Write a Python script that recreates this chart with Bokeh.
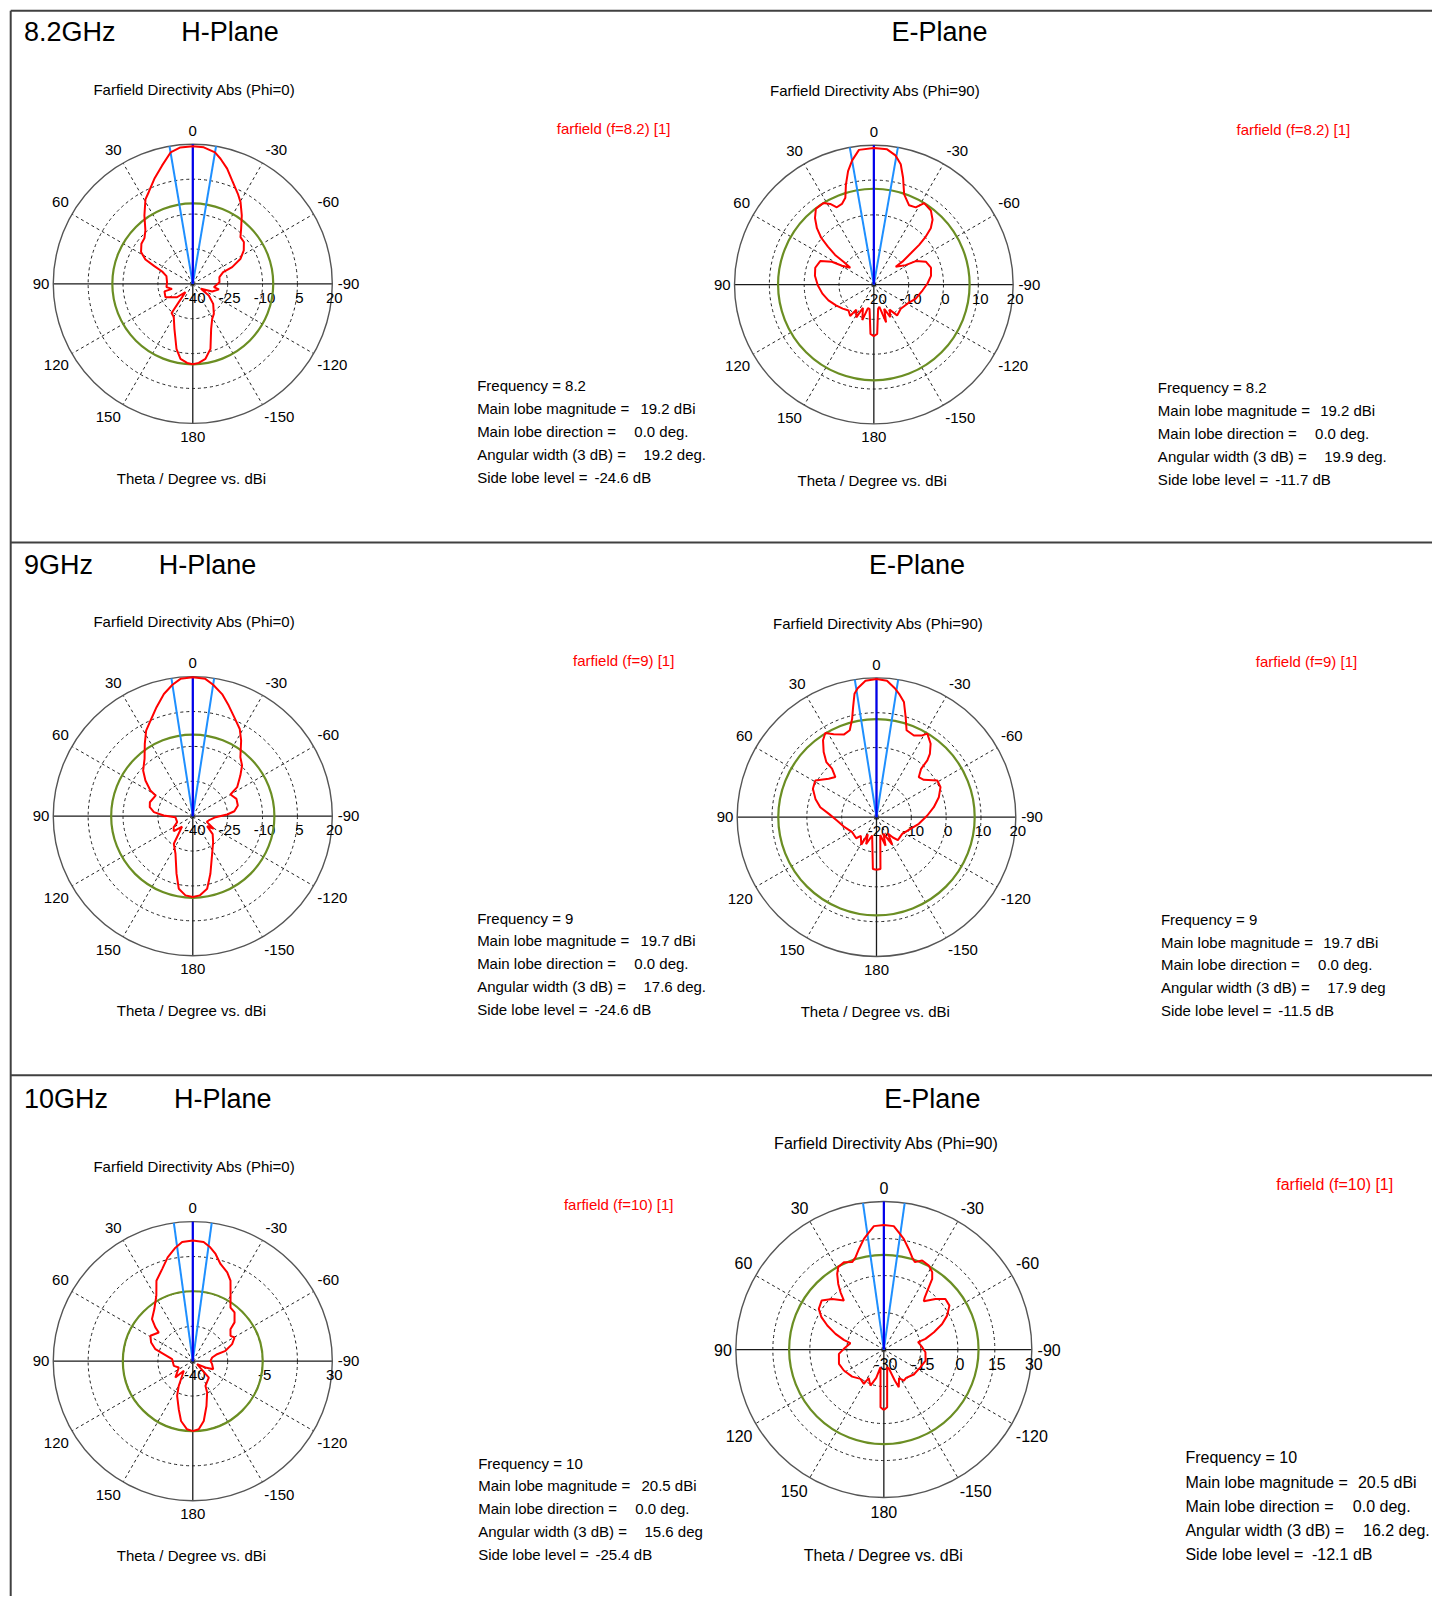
import numpy as np
from bokeh.plotting import figure
from bokeh.models import Range1d
from bokeh.core.properties import value
from bokeh.embed import file_html
from bokeh.resources import INLINE

# ---------------- data ----------------
freq_titles = ["8.2GHz", "9GHz", "10GHz"]
frequencies = ["8.2", "9", "10"]

h_main_lobe = [19.2, 19.7, 20.5]
e_main_lobe = [19.2, 19.7, 20.5]
h_width = [19.2, 17.6, 15.6]
e_width = [19.9, 17.9, 16.2]
h_width_unit = ["deg.", "deg.", "deg"]
e_width_unit = ["deg.", "deg", "deg."]
h_sll = [-24.6, -24.6, -25.4]
e_sll = [-11.7, -11.5, -12.1]

h_ticks = [[-40, -25, -10, 5, 20], [-40, -25, -10, 5, 20], [-40, -22.5, -5, 12.5, 30]]
h_tick_labels = [["-40", "-25", "-10", "5", "20"], ["-40", "-25", "-10", "5", "20"], ["-40", "", "-5", "", "30"]]
e_ticks = [[-20, -10, 0, 10, 20], [-20, -10, 0, 10, 20], [-30, -15, 0, 15, 30]]
e_tick_labels = [["-20", "-10", "0", "10", "20"], ["-20", "-10", "0", "10", "20"], ["-30", "-15", "0", "15", "30"]]

angle_labels = [0, 30, 60, 90, 120, 150, 180, -150, -120, -90, -60, -30]

# 8.2 GHz H-plane (Phi=0)
h82_theta = [-180, -175.7, -170.4, -164.8, -157.8, -151, -145, -134.5, -126, -121, -111.6, -102, -99, -86.4,
             -76, -69, -67, -62.3, -56.8, -50.7, -45.6, -41.3, -35.6, -30.3, -26.6, -20.8, -16.6, -12.5,
             -9.6, -4.6, 0, 5.2, 9.6, 14.5, 20.1, 25.6, 29.3, 35.3, 41.6, 46.6, 52.1, 58.5, 62.8, 65.3,
             68.1, 73.8, 86.3, 97.2, 103.6, 105, 116, 130.4, 138.7, 142.6, 144, 150.3, 157.8, 165.9,
             170.7, 175.9, 180]
h82_dbi = [-5.4, -5.9, -7.3, -11.0, -19.1, -22.8, -24.2, -27.7, -31.5, -35.9, -31.0, -28.5, -30.8, -28.5,
           -28.2, -26.0, -21.6, -16.8, -13.8, -11.6, -11.3, -8.5, -3.8, 0.7, 3.3, 7.6, 11.7, 15.1,
           17.3, 18.9, 19.2, 18.9, 17.3, 12.6, 8.1, 3.8, 1.6, -4.0, -9.3, -11.4, -12.0, -13.9, -17.1, -21.8,
           -25.8, -28.2, -28.9, -28.6, -30.8, -27.4, -26.9, -31.1, -35.2, -30.1, -24.5, -23.5, -19.1, -11.2,
           -7.3, -5.9, -5.4]

# 8.2 GHz E-plane (Phi=90)
e82_theta = [-180, -176.1, -170, -166, -162, -157, -153, -148, -143, -132, -119.7, -108.6, -96.7, -88.9,
             -81.3, -73.6, -66.3, -60.8, -58.6, -50.8, -51.3, -49.8, -48.8, -47.3, -45.3, -42.2, -37.7,
             -31.7, -28.5, -24, -18.6, -15.3, -12.6, -9.5, -5.6, 0, 6.3, 9.9, 12.8, 15.6, 18.2, 21.6, 25.6,
             28.4, 31.7, 37.4, 41.5, 45.3, 48.3, 50.5, 52.6, 53, 54.5, 59.5, 61.5, 66.4, 74, 81.5, 90.7,
             100, 109.2, 118.8, 127.7, 135.7, 143, 145, 152, 155, 162, 166, 170, 176.1, 180]
e82_dbi = [-5.2, -5.8, -12.9, -13.4, -8.6, -12.4, -9.5, -11.5, -8.9, -9.6, -8.9, -7.3, -5.9, -4.6,
           -3.4, -2.9, -3.7, -6.2, -9.3, -11.9, -9.5, -6.1, -2.7, 0.3, 3.0, 5.1, 6.8,
           7.5, 5.2, 4.9, 7.3, 11.8, 15.4, 17.6, 19.0, 19.2, 18.9, 16.2, 13.4, 9.8, 6.2, 4.9, 4.6,
           6.3, 7.5, 7.4, 5.5, 3.0, 0.3, -2.9, -6.0, -9.1, -11.7, -9.4, -6.3, -3.2, -2.5, -2.9, -3.9,
           -5.0, -6.2, -7.6, -8.7, -9.6, -8.7, -11.2, -9.3, -12.6, -9.3, -13.0, -12.9, -5.8, -5.2]

# 9 GHz H-plane
h9_theta = [-180, -175, -168.8, -163, -152.8, -142, -132, -125, -121, -112, -105, -92.5, -87.2, -83.2,
            -76.7, -68.4, -60.1, -56.8, -49.5, -44.2, -38.9, -32.6, -28.3, -22.8, -18, -13.5, -8.8,
            -5.2, 0, 5.1, 8.8, 13.3, 18.4, 23.9, 28.6, 33.6, 40.1, 47.4, 53, 58.8, 61, 72, 78.2, 84.1,
            88.7, 93.3, 111, 120, 128.3, 134, 145.5, 155.3, 164.2, 169.1, 174.7, 180]
h9_dbi = [-5.2, -5.8, -8.2, -14.1, -21.8, -25.8, -28.5, -32.5, -29.5, -33.5, -32.9, -30.2, -25.2, -22.0,
          -20.1, -19.8, -21.3, -17.2, -13.1, -9.6, -7.4, -1.4, 2.6, 6.1, 10.0, 14.0, 17.2,
          19.3, 19.7, 19.3, 17.2, 14.0, 9.4, 4.9, 1.9, -2.7, -7.8, -11.0, -14.5, -18.7, -21.7, -20.6, -21.1, -23.2,
          -27.5, -32.5, -32.8, -30.5, -29.6, -33.6, -25.6, -22.2, -14.3, -8.2, -5.8, -5.2]

# 9 GHz E-plane
e9_theta = [-180, -175.6, -168, -162.4, -157, -150.2, -145, -141, -137, -123, -109, -98.9, -88.1, -80.1,
            -72.2, -64.9, -58.9, -51.7, -46.6, -42.7, -41.8, -40.1, -36.4, -31.3, -29.2, -24.6, -19.1,
            -16.2, -13.4, -10.7, -8.1, -4.4, 0, 4.6, 8.3, 10.1, 12, 13.9, 17.1, 21.6, 27.3, 31.3, 34.8,
            39, 42.3, 42.5, 45.7, 51.2, 59, 65.9, 73.3, 79.9, 86, 94.8, 107.4, 121.7, 136, 140, 151,
            153, 159, 166.7, 176, 180]
e9_dbi = [-4.9, -5.1, -14.8, -11.4, -14.9, -10.9, -14.3, -12.5, -11.0, -11.2, -9.7, -7.7, -5.4, -3.3,
          -1.2, 0.3, 0.4, -2.7, -3.3, -1.1, 1.9, 3.8, 6.2, 8.1, 6.9, 5.8, 6.4,
          10.0, 14.0, 15.8, 17.4, 19.3, 19.7, 19.3, 17.4, 16.0, 12.3, 9.1, 6.1, 5.5, 6.8, 8.3, 6.9,
          4.1, 1.4, -1.1, -3.5, -2.4, 0.5, 0.0, -1.7, -3.6, -6.3, -8.6, -10.4, -11.8, -11.6, -13.0, -11.0,
          -14.5, -11.7, -14.6, -5.1, -4.9]

# 10 GHz H-plane
h10_theta = [-180, -175, -169.6, -163, -155.4, -152.8, -135.6, -124.7, -116.6, -111.5, -98.8, -89, -79.3,
             -74, -72.4, -66.6, -60.4, -56.1, -49.7, -47.1, -40.6, -35.1, -30, -25.1, -21.2, -15.9, -12,
             -8.7, -5.2, 0, 5.1, 8.7, 13.6, 18.4, 24.3, 29.1, 36.4, 44.1, 47.9, 49.9, 59.1, 65.9, 72.2,
             76.4, 84.5, 103.8, 114.3, 133.3, 137, 150.4, 155.7, 163.7, 168.9, 175.2, 180]
h10_dbi = [-4.9, -5.7, -9.5, -16.5, -22.7, -26.1, -28.5, -37.4, -32.9, -29.0, -30.2, -31.1, -30.1,
           -27.3, -22.8, -18.5, -15.9, -17.2, -15.2, -11.4, -7.8, -7.1, -2.1, 4.6, 7.8, 10.7, 15.0,
           17.8, 20.0, 20.5, 20.0, 17.6, 13.6, 8.7, 4.3, -2.4, -7.5, -10.6, -14.7, -17.7, -15.2, -17.1, -20.3,
           -25.0, -29.6, -30.2, -32.3, -28.0, -33.4, -25.7, -20.9, -14.9, -9.4, -5.7, -4.9]

# 10 GHz E-plane
e10_theta = [-180, -176.7, -169.3, -165, -160.5, -158.3, -152, -147.2, -141.8, -129.8, -115.7, -104.8,
             -93.7, -86.5, -77.9, -75.6, -70.9, -66.3, -61.8, -56.2, -50.6, -45.6, -39.6, -38.1, -35.8,
             -34.4, -32, -28.2, -23.3, -19.5, -17.1, -13.9, -10.2, -7.7, -4.6, 0, 4.6, 7.7, 10.2, 13.9,
             17.1, 19.9, 24.6, 29, 31.7, 34.8, 37.1, 39.2, 45.6, 51.8, 58, 62.6, 67, 72, 76.4, 79.2, 89,
             95.5, 107.7, 117.7, 130.5, 141.5, 149.8, 152, 159.7, 165, 169.3, 176.7, 180]
e10_dbi = [-5.5, -6.6, -22.7, -22.0, -16.7, -13.6, -16.9, -15.0, -15.4, -14.2, -13.5, -12.5,
           -13.1, -14.4, -15.8, -12.6, -8.5, -4.2, -0.9, 2.0, 2.3, -0.7, -4.6, -3.1, 1.2,
           4.7, 7.0, 8.6, 9.3, 7.6, 9.1, 12.0, 15.6, 17.5, 20.2, 20.5, 20.2, 17.5, 15.6, 12.0,
           9.1, 7.7, 8.9, 8.2, 6.0, 2.4, -0.9, -4.4, -0.7, 2.1, 1.1, -1.5, -5.1, -9.4, -13.3, -16.2, -13.8,
           -11.7, -10.9, -11.7, -13.1, -14.8, -13.9, -16.9, -14.4, -18.1, -22.7, -6.6, -5.5]

# ---------------- layout (perceived page units) ----------------
S = 1436 / 1407
W, H = 1432, 1596
XR = W / S
YB = H / S
p = figure(width=W, height=H, output_backend="svg", toolbar_location=None,
           x_range=Range1d(0, XR), y_range=Range1d(YB, 0),
           x_axis_location=None, y_axis_location=None, min_border=0,
           outline_line_color=None, background_fill_color="white")
p.xgrid.visible = False
p.ygrid.visible = False

FONT = value("Liberation Sans")

# frame lines
p.segment(x0=[10, 10, 10, 10], y0=[10, 531, 1053, 10], x1=[XR, XR, XR, 10], y1=[10, 531, 1053, YB],
          line_color="#404040", line_width=2)

# angle label placement (offset from centre for a radius of 137)
angle_label_offsets = {0: (0, -150), 30: (-78, -131), 60: (-130, -80), 90: (-149, 0),
                       120: (-134, 80), 150: (-83, 131), 180: (0, 150), -150: (85, 131),
                       -120: (137, 80), -90: (153, 0), -60: (133, -80), -30: (82, -131)}

def to_xy(cx, cy, R, lo, hi, theta, val):
    th = np.radians(np.asarray(theta, float))
    frac = np.clip((np.asarray(val, float) - lo) / (hi - lo), 0, 1)
    r = frac * R
    return cx - r * np.sin(th), cy - r * np.cos(th)

def text(xs, ys, ts, size="15px", color="black", align="left", baseline="middle"):
    p.text(x=list(xs), y=list(ys), text=list(ts), text_font=FONT, text_font_size=size,
           text_color=color, text_align=align, text_baseline=baseline)

def polar(cx, cy, R, ticks, tlabels, theta, dbi, main, width, sll, fs):
    lo, hi = ticks[0], ticks[-1]
    for t in ticks[1:-1]:
        rr = (t - lo) / (hi - lo) * R
        p.circle(x=[cx], y=[cy], radius=rr, fill_color=None, line_color="#222222",
                 line_width=1, line_dash="3 3")
    sp = np.radians([30, 60, 120, 150, -30, -60, -120, -150])
    p.segment(x0=[cx] * 8, y0=[cy] * 8, x1=list(cx - R * np.sin(sp)), y1=list(cy - R * np.cos(sp)),
              line_color="#222222", line_width=1, line_dash="3 3")
    p.segment(x0=[cx - R, cx], y0=[cy, cy - R], x1=[cx + R, cx], y1=[cy, cy + R],
              line_color="#1a1a1a", line_width=1.3)
    p.circle(x=[cx], y=[cy], radius=R, fill_color=None, line_color="#555555", line_width=1.4)
    k = R / 137.0
    ax = [cx + angle_label_offsets[a][0] * k for a in angle_labels]
    ay = [cy + angle_label_offsets[a][1] * k for a in angle_labels]
    text(ax, ay, [str(a) for a in angle_labels], size=fs, align="center")
    rx = [cx + (t - lo) / (hi - lo) * R + 2 for t in ticks]
    text(rx, [cy + 14] * len(ticks), tlabels, size=fs, align="center")
    rs = (main + sll - lo) / (hi - lo) * R
    p.circle(x=[cx], y=[cy], radius=rs, fill_color=None, line_color="#6b8e23", line_width=2.2)
    hw = np.radians(width / 2)
    p.segment(x0=[cx, cx], y0=[cy, cy], x1=[cx - R * np.sin(hw), cx + R * np.sin(hw)],
              y1=[cy - R * np.cos(hw)] * 2, line_color="#1e8fff", line_width=2)
    p.segment(x0=[cx], y0=[cy], x1=[cx], y1=[cy - R], line_color="#0000ee", line_width=2.2)
    x, y = to_xy(cx, cy, R, lo, hi, theta, dbi)
    p.line(x=list(x), y=list(y), line_color="#ff0000", line_width=2)

h_patterns = [(h82_theta, h82_dbi), (h9_theta, h9_dbi), (h10_theta, h10_dbi)]
e_patterns = [(e82_theta, e82_dbi), (e9_theta, e9_dbi), (e10_theta, e10_dbi)]

row_title_y = [31, 553, 1076]
h_title_x = [177, 155, 170]
e_title_x = [873, 851, 866]

h_centers = [(188.4, 277.6), (188.4, 799.2), (188.4, 1333.2)]
e_centers = [(855.7, 278.3), (858.3, 800.2), (865.5, 1321.8)]
e_R = [136.5, 136.5, 145]

h_head_y = [87, 608, 1142]
e_head = [(754, 88), (757, 610), (758, 1120)]
h_leg = [(545, 125), (561, 647), (552, 1180)]
e_leg = [(1211, 126), (1230, 648), (1250, 1160)]
h_theta_lab = [(114, 468), (114, 990), (114, 1524)]
e_theta_lab = [(781, 470), (784, 991), (787, 1524)]
h_stats = [(467, 377), (467, 899), (468, 1433)]
e_stats = [(1134, 379), (1137, 900), (1161, 1428)]

def stats_block(x0, y0, dy, offs, freq, mag, width, unit, sll, fs):
    labels = ["Frequency = " + freq, "Main lobe magnitude =", "Main lobe direction =",
              "Angular width (3 dB) =", "Side lobe level ="]
    vals = [f"{mag:.1f} dBi", "0.0 deg.", f"{width:.1f} {unit}", f"{sll:.1f} dB"]
    text([x0] * 5, [y0 + dy * i for i in range(5)], labels, size=fs)
    text([x0 + o for o in offs], [y0 + dy * (i + 1) for i in range(4)], vals, size=fs)

for i in range(3):
    text([23, h_title_x[i], e_title_x[i]], [row_title_y[i]] * 3, [freq_titles[i], "H-Plane", "E-Plane"],
         size="27px")
    fs = "15px"
    text([91], [h_head_y[i]], ["Farfield Directivity Abs (Phi=0)"], size=fs)
    text([h_leg[i][0]], [h_leg[i][1]], [f"farfield (f={frequencies[i]}) [1]"], size=fs, color="#ff0000")
    text([h_theta_lab[i][0]], [h_theta_lab[i][1]], ["Theta / Degree vs. dBi"], size=fs)
    polar(h_centers[i][0], h_centers[i][1], 136.7, h_ticks[i], h_tick_labels[i],
          h_patterns[i][0], h_patterns[i][1], h_main_lobe[i], h_width[i], h_sll[i], fs)
    stats_block(h_stats[i][0], h_stats[i][1], 22.5, [160, 154, 163, 115], frequencies[i],
                h_main_lobe[i], h_width[i], h_width_unit[i], h_sll[i], fs)
    efs = "16px" if i == 2 else "15px"
    edy = 23.75 if i == 2 else 22.5
    eoffs = [169, 164, 174, 124] if i == 2 else [159, 154, 163, 115]
    text([e_head[i][0]], [e_head[i][1]], ["Farfield Directivity Abs (Phi=90)"], size=efs)
    text([e_leg[i][0]], [e_leg[i][1]], [f"farfield (f={frequencies[i]}) [1]"], size=efs, color="#ff0000")
    text([e_theta_lab[i][0]], [e_theta_lab[i][1]], ["Theta / Degree vs. dBi"], size=efs)
    polar(e_centers[i][0], e_centers[i][1], e_R[i], e_ticks[i], e_tick_labels[i],
          e_patterns[i][0], e_patterns[i][1], e_main_lobe[i], e_width[i], e_sll[i], efs)
    stats_block(e_stats[i][0], e_stats[i][1], edy, eoffs, frequencies[i],
                e_main_lobe[i], e_width[i], e_width_unit[i], e_sll[i], efs)

open("out.html", "w").write(file_html(p, INLINE))
